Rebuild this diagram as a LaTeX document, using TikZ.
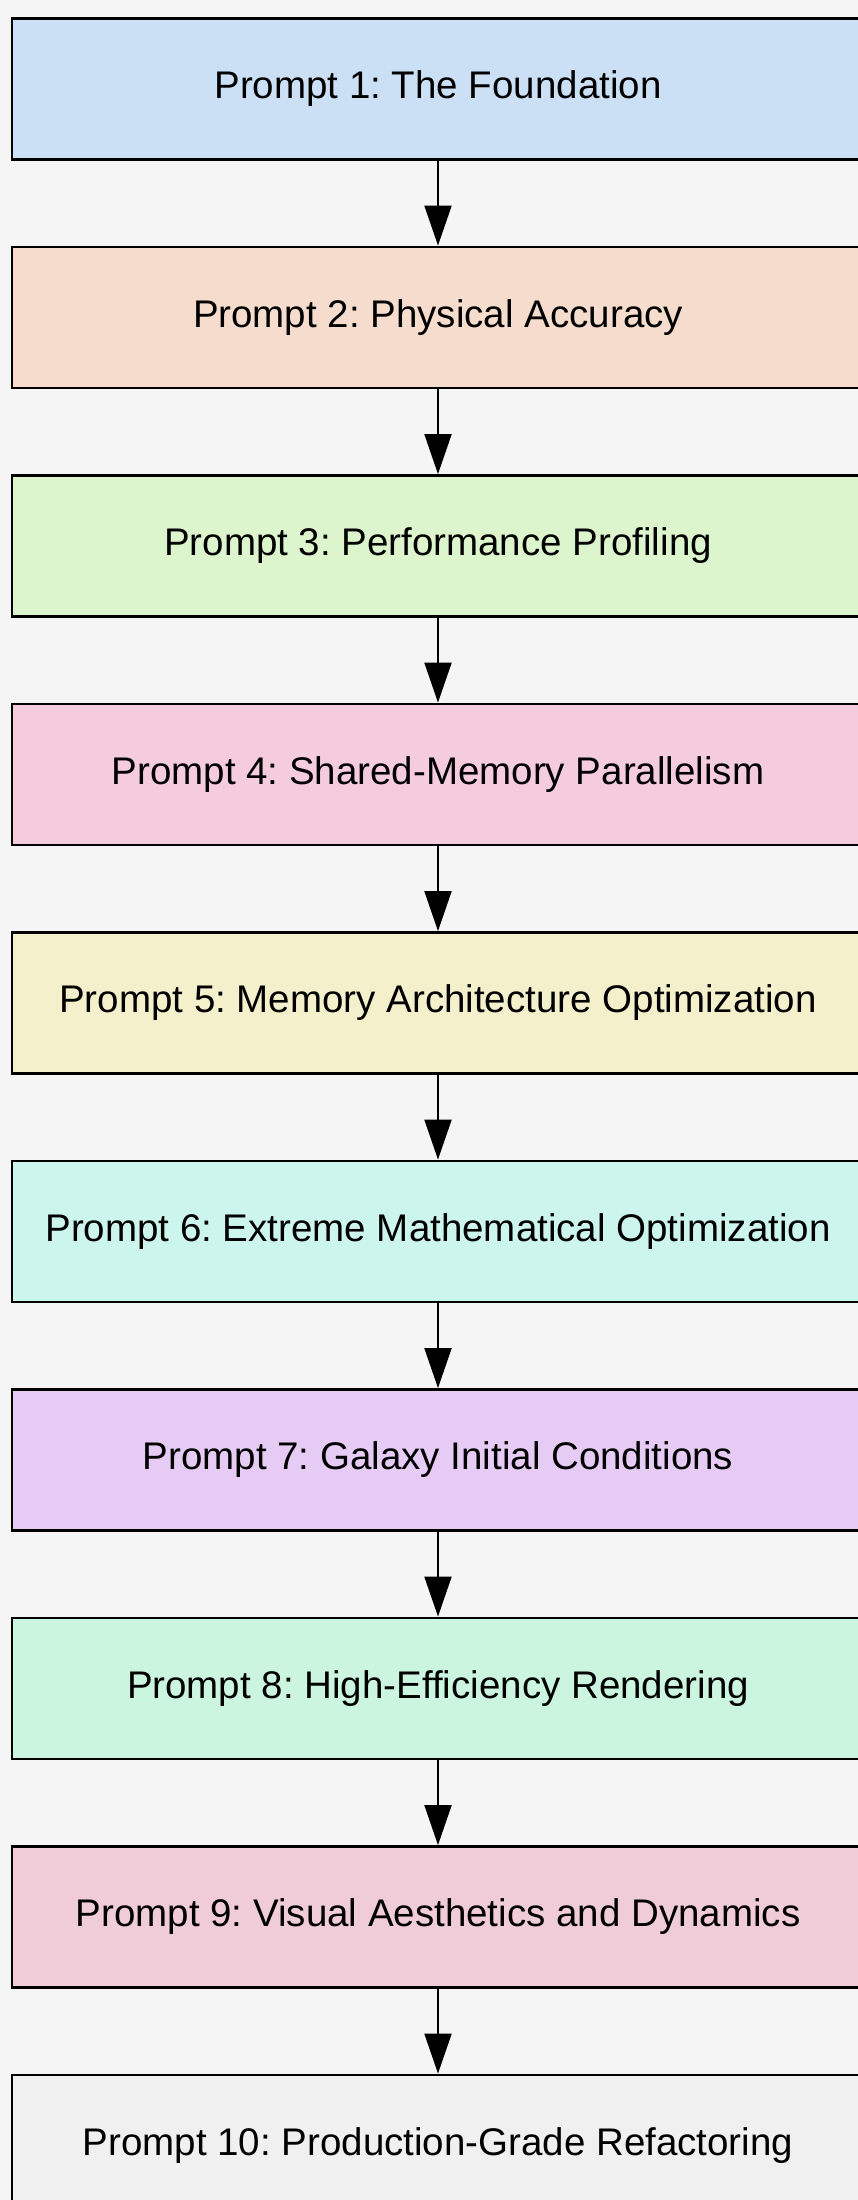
\documentclass[tikz,border=0pt]{standalone}
\usepackage{fontspec}
\setmainfont{Liberation Sans}
\usetikzlibrary{arrows.meta}
\definecolor{bg}{HTML}{F5F5F5}
\definecolor{c1}{HTML}{CCE0F5}
\definecolor{c2}{HTML}{F5DCCC}
\definecolor{c3}{HTML}{DCF5CC}
\definecolor{c4}{HTML}{F5CCDC}
\definecolor{c5}{HTML}{F5F0CC}
\definecolor{c6}{HTML}{CCF5EE}
\definecolor{c7}{HTML}{E6CCF5}
\definecolor{c8}{HTML}{CCF5E0}
\definecolor{c9}{HTML}{F0CCD8}
\definecolor{c10}{HTML}{F0F0F0}
\frenchspacing
\tikzset{
  promptbox/.style={draw=black, line width=2.5pt, minimum width=852pt, minimum height=141pt,
    inner sep=0pt, font=\fontsize{38.5}{44}\selectfont\frenchspacing, text=black},
  flowarrow/.style={line width=2pt, -{Triangle[length=40pt,width=27pt]}},
}
\begin{document}
\begin{tikzpicture}[x=1pt,y=1pt]
\useasboundingbox (0,0) rectangle (858,-2200);
\clip (0,0) rectangle (858,-2200);
\fill[bg] (0,0) rectangle (858,-2200);
\node[promptbox, fill=c1]  (p1)  at (438,-88.8)   {Prompt 1: The Foundation};
\node[promptbox, fill=c2]  (p2)  at (438,-317.3)  {Prompt 2: Physical Accuracy};
\node[promptbox, fill=c3]  (p3)  at (438,-545.8)  {Prompt 3: Performance Profiling};
\node[promptbox, fill=c4]  (p4)  at (438,-774.3)  {Prompt 4: Shared-Memory Parallelism};
\node[promptbox, fill=c5]  (p5)  at (438,-1002.8) {Prompt 5: Memory Architecture Optimization};
\node[promptbox, fill=c6]  (p6)  at (438,-1231.3) {Prompt 6: Extreme Mathematical Optimization};
\node[promptbox, fill=c7]  (p7)  at (438,-1459.8) {Prompt 7: Galaxy Initial Conditions};
\node[promptbox, fill=c8]  (p8)  at (438,-1688.3) {Prompt 8: High-Efficiency Rendering};
\node[promptbox, fill=c9]  (p9)  at (438,-1916.8) {Prompt 9: Visual Aesthetics and Dynamics};
\node[promptbox, fill=c10] (p10) at (438,-2145.3) {Prompt 10: Production-Grade Refactoring};
\foreach \a/\b in {p1/p2,p2/p3,p3/p4,p4/p5,p5/p6,p6/p7,p7/p8,p8/p9,p9/p10}
  \draw[flowarrow] (\a.south) -- (\b.north);
\end{tikzpicture}
\end{document}
